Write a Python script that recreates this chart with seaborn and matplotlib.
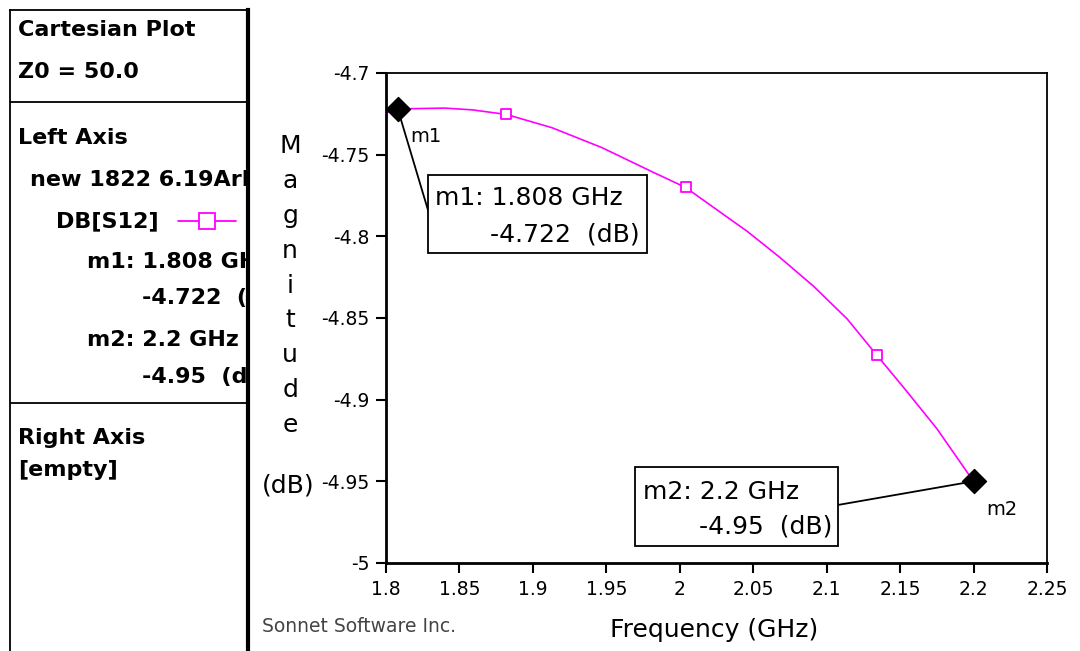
import matplotlib.pyplot as plt
import numpy as np
import pandas as pd
import seaborn as sns
from matplotlib.patches import Rectangle
from matplotlib.lines import Line2D
from matplotlib.ticker import FormatStrFormatter

sns.set_theme(style="white")
plt.rcParams['font.family'] = ['DejaVu Sans']
plt.rcParams['text.color'] = 'black'
plt.rcParams['axes.labelcolor'] = 'black'

# ======== data ========
freq = [1.8, 1.808, 1.84, 1.859, 1.882, 1.913, 1.947, 1.981, 2.004, 2.023,
        2.046, 2.068, 2.091, 2.114, 2.134, 2.152, 2.175, 2.2]
mag = [-4.7245, -4.722, -4.7215, -4.7226, -4.7254, -4.7335, -4.7457, -4.7604,
       -4.7701, -4.7823, -4.797, -4.8128, -4.8305, -4.8506, -4.8726, -4.8921,
       -4.9177, -4.95]
sample_freq = [1.882, 2.004, 2.134]
sample_mag = [-4.7254, -4.7701, -4.8726]
marker_names = ["m1", "m2"]
marker_freq = [1.808, 2.2]
marker_mag = [-4.722, -4.95]
x_ticks = [1.8, 1.85, 1.9, 1.95, 2.0, 2.05, 2.1, 2.15, 2.2, 2.25]
y_ticks = [-5.0, -4.95, -4.9, -4.85, -4.8, -4.75, -4.7]

df = pd.DataFrame({"freq": freq, "mag": mag})
df_s = pd.DataFrame({"freq": sample_freq, "mag": sample_mag})
df_m = pd.DataFrame({"name": marker_names, "freq": marker_freq, "mag": marker_mag})

MAG = "#FF00FF"

fig = plt.figure(figsize=(10.8, 6.51), dpi=100)

# ======== main plot ========
ax = fig.add_axes([0.3574, 0.1352, 0.612, 0.7527])
sns.lineplot(data=df, x="freq", y="mag", color=MAG, lw=1.2, ax=ax, zorder=2)
sns.scatterplot(data=df_s, x="freq", y="mag", marker="s", s=45, facecolor="white",
                edgecolor=MAG, linewidth=1.3, ax=ax, zorder=3)

# marker leader lines + boxes
lead_xy = [(0.0635, 0.7204), (0.6838, 0.1184)]
for (_, r), xy in zip(df_m.iterrows(), lead_xy):
    ax.annotate("", xy=(r["freq"], r["mag"]), xytext=xy, textcoords="axes fraction",
                arrowprops=dict(arrowstyle="-", color="black", lw=1.3,
                                shrinkA=0, shrinkB=0), zorder=3)
sns.scatterplot(data=df_m, x="freq", y="mag", marker="D", s=150, color="black",
                edgecolor="black", ax=ax, zorder=4)
for _, r in df_m.iterrows():
    ax.annotate(r["name"], xy=(r["freq"], r["mag"]), xytext=(28, -28),
                textcoords="offset pixels", ha="center", va="center", fontsize=14)

boxes = [(0.0635, 0.6327, 0.3314, 0.1591), (0.3767, 0.0347, 0.3071, 0.1612)]
for bx, by, bw, bh in boxes:
    ax.add_patch(Rectangle((bx, by), bw, bh, transform=ax.transAxes, facecolor="white",
                           edgecolor="black", lw=1.3, zorder=5))
ax.text(0.0741, 0.7449, f"m1: {marker_freq[0]:.3f} GHz", transform=ax.transAxes,
        ha="left", va="center", fontsize=18, zorder=6)
ax.text(0.3843, 0.6694, f"{marker_mag[0]:.3f}  (dB)", transform=ax.transAxes,
        ha="right", va="center", fontsize=18, zorder=6)
ax.text(0.3888, 0.1449, f"m2: {marker_freq[1]:g} GHz", transform=ax.transAxes,
        ha="left", va="center", fontsize=18, zorder=6)
ax.text(0.6747, 0.0735, f"{marker_mag[1]:g}  (dB)", transform=ax.transAxes,
        ha="right", va="center", fontsize=18, zorder=6)

ax.set_xlim(1.8, 2.25)
ax.set_ylim(-5.0, -4.7)
ax.set_xticks(x_ticks)
ax.set_yticks(y_ticks)
ax.xaxis.set_major_formatter(FormatStrFormatter("%g"))
ax.yaxis.set_major_formatter(FormatStrFormatter("%g"))
ax.tick_params(axis="both", which="both", direction="out", length=7, width=1.5,
               color="black", labelsize=13.5, labelcolor="black", pad=5,
               bottom=True, left=True, top=False, right=False)
for side, lw in [("left", 2), ("bottom", 2), ("top", 1.3), ("right", 1.3)]:
    ax.spines[side].set_color("black")
    ax.spines[side].set_linewidth(lw)
ax.set_xlabel("Frequency (GHz)", fontsize=18, color="black")
ax.xaxis.set_label_coords(0.496, -0.113)
ax.set_ylabel("")

# stacked y label
for i, ch in enumerate("Magnitude"):
    yp = 1 - (153 + i * 34.9 - 73) / 490
    ax.text(-0.145, yp, ch, transform=ax.transAxes, ha="center", va="baseline",
            fontsize=18, color="black")
ax.text(-0.148, 0.158, "(dB)", transform=ax.transAxes, ha="center", va="center",
        fontsize=18, color="black")

fig.text(0.2426, 0.0384, "Sonnet Software Inc.", ha="left", va="center",
         fontsize=13.5, color="#444444")

# ======== left info panel ========
lp = fig.add_axes([10 / 1080, 0.0, 238 / 1080, 641 / 651])
lp.set_xlim(0, 1)
lp.set_ylim(0, 1)
lp.set_xticks([])
lp.set_yticks([])
lp.spines["bottom"].set_visible(False)
lp.spines["top"].set_linewidth(1.3)
lp.spines["left"].set_linewidth(1.3)
lp.spines["right"].set_linewidth(3)
for s in ["top", "left", "right"]:
    lp.spines[s].set_color("black")
for yp in [102, 403]:
    lp.axhline(1 - (yp - 10) / 641, color="black", lw=1.3)


def px(x, y):
    return (x - 10) / 238, 1 - (y - 10) / 641


panel_lines = [
    ("Cartesian Plot", 18, 30),
    ("Z0 = 50.0", 18, 72),
    ("Left Axis", 18, 138),
    ("new 1822 6.19Arl", 30, 180),
    ("DB[S12]", 56, 221),
    (f"m1: {marker_freq[0]:.3f} GHz", 87, 262),
    (f"{marker_mag[0]:.3f}  (dB)", 142, 298),
    (f"m2: {marker_freq[1]:g} GHz", 87, 340),
    (f"{marker_mag[1]:g}  (dB)", 142, 377),
    ("Right Axis", 18, 438),
    ("[empty]", 18, 470),
]
for txt, x, y in panel_lines:
    fx, fy = px(x, y)
    lp.text(fx, fy, txt, ha="left", va="center", fontsize=16, fontweight="bold",
            color="black", clip_on=True)

x0, yl = px(178, 221)
x1, _ = px(236, 221)
xs, _ = px(207, 221)
lp.add_line(Line2D([x0, x1], [yl, yl], color=MAG, lw=1.3))
lp.plot([xs], [yl], marker="s", markersize=12, markerfacecolor="white",
        markeredgecolor=MAG, markeredgewidth=1.3)

plt.savefig("out.png", dpi=100)
plt.close()
